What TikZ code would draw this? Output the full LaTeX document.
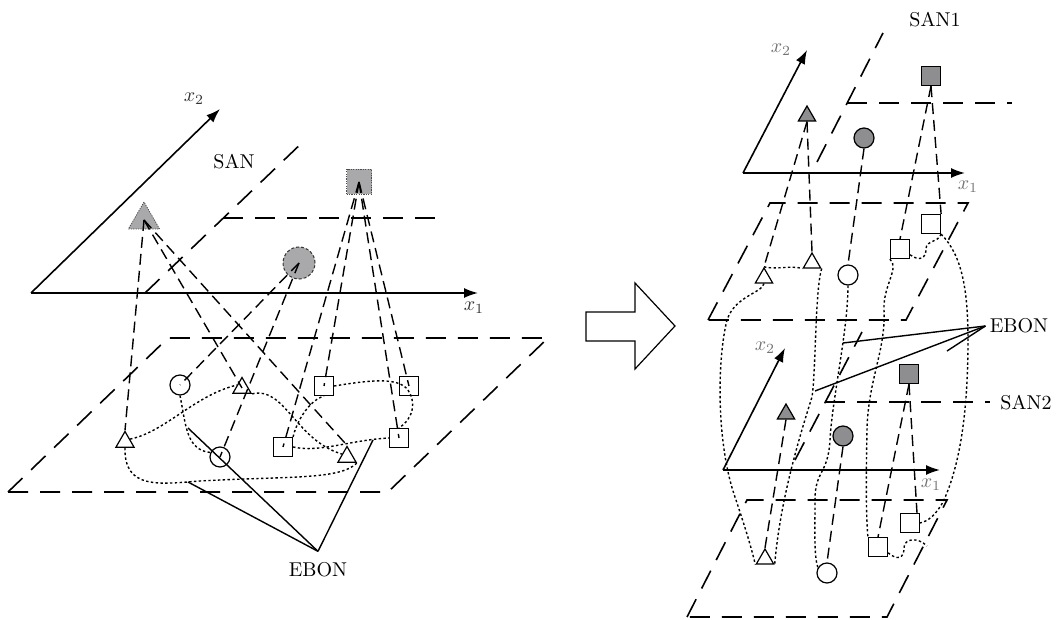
\documentclass[tikz,border=0pt]{standalone}
\usetikzlibrary{arrows.meta,shapes.geometric}
\definecolor{gL}{RGB}{169,169,171}
\definecolor{gR}{RGB}{142,142,144}
\begin{document}
\begin{tikzpicture}[x=0.5pt,y=-0.5pt,
  plane/.style={line width=0.8pt,dash pattern=on 10pt off 6pt},
  conn/.style={line width=0.7pt,dash pattern=on 5.5pt off 3pt},
  ebonc/.style={line width=0.7pt,dash pattern=on 1.2pt off 1.2pt},
  lead/.style={line width=0.7pt},
  axis/.style={line width=0.8pt,-{Latex[length=7pt,width=5pt]}},
  wcirc/.style={circle,draw,line width=0.6pt,minimum size=10pt,inner sep=0pt},
  wsq/.style={rectangle,draw,line width=0.6pt,minimum size=9.5pt,inner sep=0pt},
  wtri/.style={regular polygon,regular polygon sides=3,draw,line width=0.6pt,minimum size=10.5pt,inner sep=0pt},
  rtri/.style={wtri,minimum size=10pt},
  gtriR/.style={rtri,fill=gR},
  gcircR/.style={wcirc,fill=gR},
  gsqR/.style={wsq,fill=gR},
  axlab/.style={text=black!80,inner sep=1pt},
  axlabR/.style={text=black!55,inner sep=1pt}]
\useasboundingbox (0,0) rectangle (1061,620);

% ---------------- left diagram ----------------
\draw[plane] (8,492) -- (168,338) -- (548,338) -- (388,492) -- cycle;
\draw[plane] (145,293) -- (306,139);
\draw[plane] (223,218) -- (447,218);
\draw[axis] (31,293) -- (478,293);
\draw[axis] (31,293) -- (220,109);

\node[regular polygon,regular polygon sides=3,fill=gL,draw=black!70,line width=0.4pt,
      dash pattern=on 0.6pt off 0.6pt,minimum size=18pt,inner sep=0pt] (LT) at (144,220) {};
\node[circle,fill=gL,draw=black!80,dash pattern=on 1.5pt off 1pt,line width=0.5pt,
      minimum size=16pt,inner sep=0pt] (LC) at (299,263) {};
\node[rectangle,fill=gL,draw=black!70,dash pattern=on 0.6pt off 0.6pt,line width=0.4pt,
      minimum size=12.5pt,inner sep=0pt] (LS) at (359,182) {};

\node[wcirc] (A) at (180,385) {};
\node[wtri]  (B) at (242,388) {};
\node[wsq]   (C) at (324,386) {};
\node[wsq]   (D) at (409,386) {};
\node[wtri]  (E) at (125,442) {};
\node[wcirc] (F) at (220,457) {};
\node[wsq]   (G) at (283,447) {};
\node[wsq]   (H) at (399,438) {};
\node[wtri]  (I) at (347,457) {};

\draw[conn] (LT.center) -- (E.north);
\draw[conn] (LT.center) -- (B.center);
\draw[conn] (LT.center) -- (I.north);
\draw[conn] (LC.center) -- (A.center);
\draw[conn] (LC.center) -- (F.center);
\draw[conn] (LS.center) -- (C.center);
\draw[conn] (LS.center) -- (G.center);
\draw[conn] (LS.center) -- (H.center);
\draw[conn] (LS.center) -- (D.center);

\draw[ebonc] (E.side 3) .. controls (165,432) and (195,395) .. (B.side 1);
\draw[ebonc] (B.corner 3) .. controls (285,386) and (295,440) .. (I.side 1);
\draw[ebonc] (A.south) .. controls (186,425) and (186,450) .. (F.155);
\draw[ebonc] (E.side 2) .. controls (124,490) and (160,484) .. (200,481)
             .. controls (290,476) and (340,480) .. (I.corner 3);
\draw[ebonc] (G.north east) .. controls (297,420) and (310,400) .. (C.south);
\draw[ebonc] (G.east) .. controls (320,453) and (350,440) .. (H.west);
\draw[ebonc] (C.east) .. controls (365,381) and (398,376) .. (408,390)
             .. controls (416,402) and (414,418) .. (H.north);

\coordinate (eL1) at (188,428);
\coordinate (eL2) at (188,482);
\coordinate (eL3) at (373,440);
\node[inner sep=5.5pt] (ebonL) at (318,570) {EBON};
\draw[lead] (ebonL.north) -- (eL1);
\draw[lead] (ebonL.north) -- (eL2);
\draw[lead] (ebonL.north) -- (eL3);

\node[axlab] (x2L) at (194,99) {$x_2$};
\node[axlab] (x1L) at (474,308) {$x_1$};
\node (san) at (234,162) {SAN};

% ---------------- big arrow ----------------
\draw[line width=0.6pt] (586,312) -- (635,312) -- (635,283) -- (675,326) -- (635,369)
      -- (635,341) -- (586,341) -- cycle;

% ---------------- right diagram ----------------
\draw[plane] (817,162) -- (883,33);
\draw[plane] (847,103) -- (1012,103);
\draw[plane] (708,320) -- (770,203) -- (968,203) -- (906,320) -- cycle;
\draw[plane] (795,460) -- (862,332);
\draw[plane] (825,402) -- (990,402);
\draw[plane] (687,617) -- (747,500) -- (947,500) -- (887,617) -- cycle;

\draw[axis] (743,173) -- (965,173);
\draw[axis] (743,173) -- (807,50);
\draw[axis] (723,470) -- (940,470);
\draw[axis] (723,470) -- (785,348);

\node[gtriR]  (RT1) at (807,116) {};
\node[gcircR] (RC1) at (864,138) {};
\node[gsqR]   (RS1) at (931,76) {};
\node[gtriR]  (RT2) at (786,414) {};
\node[gcircR] (RC2) at (843,436) {};
\node[gsqR]   (RS2) at (909,374) {};

\node[rtri]  (a) at (764,278) {};
\node[rtri]  (b) at (812,263) {};
\node[wcirc] (m) at (848,275) {};
\node[wsq]   (c) at (900,249) {};
\node[wsq]   (d) at (931,224) {};
\node[rtri]  (t) at (765,559) {};
\node[wcirc] (o) at (827,573) {};
\node[wsq]   (e) at (878,547) {};
\node[wsq]   (f) at (910,523) {};

\draw[conn] (RT1.south) -- (a.north);
\draw[conn] (RT1.south) -- (b.north);
\draw[conn] (RC1.south) -- (m.north);
\draw[conn] (RS1.south) -- (c.north);
\draw[conn] (RS1.south) -- (d.north east);
\draw[conn] (RT2.south) -- (t.north);
\draw[conn] (RC2.south) -- (o.north);
\draw[conn] (RS2.south) -- (e.north);
\draw[conn] (RS2.south) -- ([xshift=3.5pt]f.north);

\draw[ebonc] (a.north) .. controls (775,270) and (792,265) .. (b.corner 2);
\draw[ebonc] (a.south) .. controls (762,293) and (735,296) .. (727,320)
             .. controls (717,360) and (716,445) .. (736,500)
             .. controls (746,530) and (752,550) .. (t.corner 2);
\draw[ebonc] (b.corner 3) .. controls (815,290) and (816,370) .. (812,397)
             .. controls (800,435) and (780,500) .. (t.corner 3);
\draw[ebonc] (m.south) .. controls (848,330) and (832,400) .. (830,440)
             .. controls (828,475) and (815,470) .. (815,500)
             .. controls (815,535) and (814,555) .. (o.150);
\draw[ebonc] (c.south west) .. controls (900,268) and (883,285) .. (884,310)
             .. controls (886,350) and (868,380) .. (867,430)
             .. controls (866,480) and (866,515) .. (e.north west);
\draw[ebonc] (c.-30) .. controls (920,262) and (926,258) .. (926,249)
             .. controls (926,240) and (938,243) .. (d.south east);
\draw[ebonc] (d.south east) .. controls (962,255) and (968,290) .. (968,340)
             .. controls (968,420) and (958,470) .. (943,502)
             .. controls (935,516) and (928,521) .. (f.east);
\coordinate (fe) at (927,546);
\draw[ebonc] (e.-30) .. controls (898,561) and (904,558) .. (904,548)
             .. controls (904,538) and (918,537) .. (fe);

\coordinate (eR1) at (843,343);
\coordinate (eR2) at (815,391);
\coordinate (eR3) at (947,351);
\node[inner sep=2pt] (ebonR) at (1019,326) {EBON};
\draw[lead] (ebonR.west) -- (eR1);
\draw[lead] (ebonR.west) -- (eR2);
\draw[lead] (ebonR.west) -- (eR3);

\node (san1) at (935,20) {SAN1};
\node (san2) at (1026,403) {SAN2};
\node[axlabR] (x2a) at (781,50) {$x_2$};
\node[axlabR] (x1a) at (968,187) {$x_1$};
\node[axlabR] (x2b) at (765,348) {$x_2$};
\node[axlabR] (x1b) at (931,485) {$x_1$};
\end{tikzpicture}
\end{document}
